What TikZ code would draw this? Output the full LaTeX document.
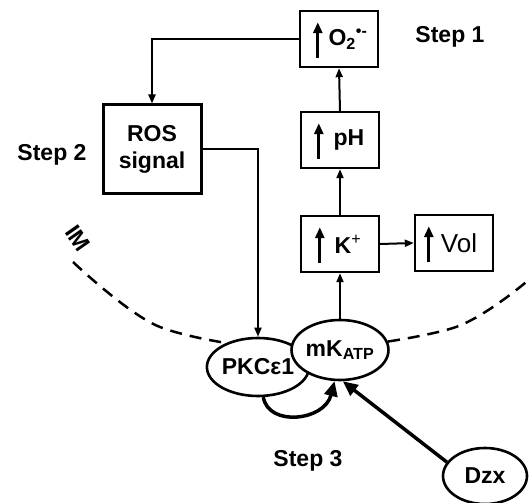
\documentclass[tikz,border=0pt]{standalone}
\usepackage{fontspec}
\setmainfont{Liberation Sans}
\usetikzlibrary{arrows.meta, shapes.geometric}

\begin{document}
\begin{tikzpicture}[x=1pt, y=-1pt, >={Triangle[length=9pt, width=7pt]}, line width=2pt,
  font=\fontsize{23}{27}\selectfont\bfseries,
  statebox/.style={draw, line width=2.4pt, minimum width=78pt, minimum height=56pt, inner sep=0pt},
  oval/.style={draw, ellipse, fill=white, line width=2.6pt, minimum width=84pt, minimum height=58pt, inner sep=0pt},
  risearrow/.style={line width=3pt, -{Triangle[length=11pt, width=9pt]}},
  bigarrow/.style={line width=3.5pt, -{Triangle[length=15pt, width=13pt]}}]
  \useasboundingbox (0,0) rectangle (531,503);
  % inner membrane
  \draw[line width=2.5pt, dash pattern=on 12pt off 8pt] plot[smooth] coordinates {(73,262) (160,327) (300,350) (453,328) (531,278)};
  \node[rotate=-55] (im) at (78,238) {IM};

  % boxes
  \node[statebox] (o2) at (339,39) {\hspace*{18pt}O\textsubscript{2}\textsuperscript{\textbullet-}};
  \node[statebox] (ph) at (340,140) {\hspace*{18pt}pH};
  \node[statebox] (kp) at (340,244) {\hspace*{16pt}K\textsuperscript{\mdseries+}};
  \node[statebox, font=\fontsize{26}{30}\selectfont] (vol) at (454,243) {\hspace*{10pt}Vol};
  \node[statebox, line width=3pt, minimum width=98pt, minimum height=88pt, align=center] (ros) at (152,149) {ROS\\signal};
  \foreach \b/\dx in {o2/19, ph/19, kp/20, vol/15}
    \draw[risearrow] ([xshift=\dx pt, yshift=10pt]\b.south west) -- ++(0,-36);

  % channels
  \node[oval] (pkc) at (258,367) {PKCε1};
  \node[oval, minimum height=60pt] (mk) at (340,350) {mK\textsubscript{ATP}};
  \node[oval, minimum height=56pt] (dzx) at (485,476) {Dzx};

  % steps
  \node (s1) at (450,37) {Step 1};
  \node (s2) at (52,155) {Step 2};
  \node (s3) at (308,461) {Step 3};

  \draw[->] (o2.west) -| (ros.north);
  \draw[->] (ros.east) -| (pkc.north);
  \draw[->] (mk.north) -- (kp.south);
  \draw[->] (kp.north) -- (ph.south);
  \draw[->] (ph.north) -- (o2.south);
  \draw[->] (kp.east) -- (vol.west);
  \draw[bigarrow] (dzx.160) -- (mk.-85);
  \draw[bigarrow] (pkc.-80) .. controls +(5,30) and +(-10,40) .. (mk.-100);
\end{tikzpicture}
\end{document}
